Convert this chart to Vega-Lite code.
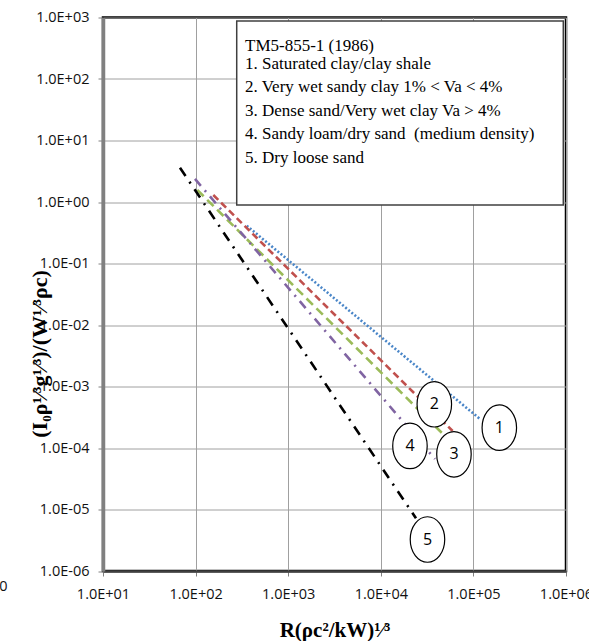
{
  "$schema": "https://vega.github.io/schema/vega-lite/v6.json",
  "width": 463,
  "height": 553.5,
  "autosize": {"type": "none"},
  "padding": {"left": 103, "top": 17.5, "right": 23, "bottom": 70},
  "background": "white",
  "config": {
    "view": {"stroke": "#000000", "strokeWidth": 2.5},
    "font": "Open Sans"
  },
  "datasets": {
    "lines": [
      {"s": "1", "x": 356.5, "y": 0.412},
      {"s": "1", "x": 117800, "y": 0.000296},
      {"s": "2", "x": 155.2, "y": 1.30},
      {"s": "2", "x": 59700, "y": 0.000189},
      {"s": "3", "x": 104.2, "y": 1.57},
      {"s": "3", "x": 45500, "y": 0.000177},
      {"s": "4", "x": 98.5, "y": 2.37},
      {"s": "4", "x": 38460, "y": 0.0000662},
      {"s": "5", "x": 67.8, "y": 3.61},
      {"s": "5", "x": 23990, "y": 0.00000719}
    ],
    "circles": [
      {"x": 190500, "y": 0.000214, "label": "1"},
      {"x": 37840, "y": 0.000514, "label": "2"},
      {"x": 61660, "y": 0.000079, "label": "3"},
      {"x": 20650, "y": 0.000108, "label": "4"},
      {"x": 31920, "y": 0.00000325, "label": "5"}
    ],
    "box": [
      {"x": 278, "x2": 935000, "y": 0.893, "y2": 877}
    ],
    "legendText": [
      {"x": 341.7, "y": 348, "label": "TM5-855-1 (1986)"},
      {"x": 341.7, "y": 175.4, "label": "1. Saturated clay/clay shale"},
      {"x": 341.7, "y": 73.3, "label": "2. Very wet sandy clay 1% < Va < 4%"},
      {"x": 341.7, "y": 30.5, "label": "3. Dense sand/Very wet clay Va > 4%"},
      {"x": 341.7, "y": 12.6, "label": "4. Sandy loam/dry sand\u00a0 (medium density)"},
      {"x": 341.7, "y": 5.25, "label": "5. Dry loose sand"}
    ],
    "stray": [
      {"x": 0.842, "y": 0.00000054, "label": "0"}
    ]
  },
  "encoding": {
    "x": {
      "field": "x",
      "type": "quantitative",
      "scale": {"type": "log", "domain": [10, 1000000], "nice": false},
      "axis": {
        "values": [10, 100, 1000, 10000, 100000, 1000000],
        "labelExpr": "'1.0E' + (datum.value >= 1 ? '+' : '-') + (abs(round(log(datum.value)/LN10)) < 10 ? '0' : '') + abs(round(log(datum.value)/LN10))",
        "grid": true,
        "gridColor": "#a0a0a0",
        "gridWidth": 1,
        "domainColor": "#404040",
        "domainWidth": 2.5,
        "tickColor": "#808080",
        "tickSize": 5,
        "tickWidth": 1,
        "labelFont": "Open Sans",
        "labelFontSize": 14.5,
        "labelColor": "#111111",
        "labelPadding": 11,
        "labelFlush": false,
        "labelOverlap": false,
        "title": "R(ρc²/kW)¹⁄³",
        "titleFont": "Liberation Serif",
        "titleFontWeight": "bold",
        "titleFontSize": 21,
        "titleColor": "#000000",
        "titleBaseline": "alphabetic",
        "titleY": 65.5
      }
    },
    "y": {
      "field": "y",
      "type": "quantitative",
      "scale": {"type": "log", "domain": [0.000001, 1000], "nice": false},
      "axis": {
        "values": [0.000001, 0.00001, 0.0001, 0.001, 0.01, 0.1, 1, 10, 100, 1000],
        "labelExpr": "'1.0E' + (round(log(datum.value)/LN10) >= 0 ? '+' : '-') + (abs(round(log(datum.value)/LN10)) < 10 ? '0' : '') + abs(round(log(datum.value)/LN10))",
        "grid": true,
        "gridColor": "#a0a0a0",
        "gridWidth": 1,
        "domainColor": "#808080",
        "domainWidth": 3.5,
        "tickColor": "#808080",
        "tickSize": 5,
        "tickWidth": 1,
        "labelFont": "Open Sans",
        "labelFontSize": 14.5,
        "labelColor": "#111111",
        "labelPadding": 9,
        "labelFlush": false,
        "labelOverlap": false,
        "title": "(I₀ρ¹⁄³g¹⁄³)/(W¹⁄³ρc)",
        "titleFont": "Liberation Serif",
        "titleFontWeight": "bold",
        "titleFontSize": 22,
        "titleColor": "#000000",
        "titleBaseline": "middle",
        "titleX": -64,
        "titleY": 336
      }
    }
  },
  "layer": [
    {
      "data": {"name": "box"},
      "mark": {"type": "rect", "fill": "white", "stroke": "#404040", "strokeWidth": 1.5},
      "encoding": {"x2": {"field": "x2"}, "y2": {"field": "y2"}}
    },
    {
      "data": {"name": "lines"},
      "mark": {"type": "line", "strokeWidth": 2.6, "strokeCap": "butt"},
      "encoding": {
        "color": {
          "field": "s", "type": "nominal",
          "scale": {"domain": ["1", "2", "3", "4", "5"], "range": ["#4a86c8", "#c0504d", "#9bbb59", "#8064a2", "#000000"]},
          "legend": null
        },
        "strokeDash": {
          "field": "s", "type": "nominal",
          "scale": {"domain": ["1", "2", "3", "4", "5"], "range": [[2, 2], [7, 4], [9, 5], [9, 6, 2, 6], [10, 7, 2, 7]]},
          "legend": null
        }
      }
    },
    {
      "data": {"name": "circles"},
      "mark": {
        "type": "point",
        "shape": "M -0.758,0 A 0.758,1 0 1,1 0.758,0 A 0.758,1 0 1,1 -0.758,0 Z",
        "size": 2070,
        "fill": "white",
        "fillOpacity": 1,
        "stroke": "#000000",
        "strokeWidth": 1.2,
        "opacity": 1
      }
    },
    {
      "data": {"name": "circles"},
      "mark": {"type": "text", "font": "Open Sans", "fontSize": 16, "color": "#000000", "align": "center", "baseline": "middle"},
      "encoding": {"text": {"field": "label"}}
    },
    {
      "data": {"name": "legendText"},
      "mark": {"type": "text", "font": "Liberation Serif", "fontSize": 17, "color": "#000000", "align": "left", "baseline": "middle"},
      "encoding": {"text": {"field": "label"}}
    },
    {
      "data": {"name": "stray"},
      "mark": {"type": "text", "font": "Open Sans", "fontSize": 14.5, "color": "#111111", "align": "center", "baseline": "middle"},
      "encoding": {"text": {"field": "label"}}
    }
  ]
}
